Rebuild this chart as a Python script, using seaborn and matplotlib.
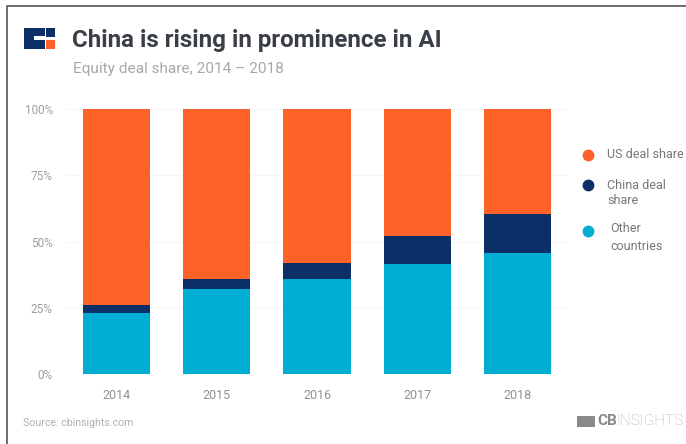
import matplotlib
matplotlib.use("Agg")
import matplotlib.pyplot as plt
from matplotlib.patches import Rectangle
import seaborn as sns
import pandas as pd

years = ["2014", "2015", "2016", "2017", "2018"]
other_share = [23, 32, 36, 41.5, 45.5]
china_share = [3, 4, 6, 10.5, 15]
us_share = [74, 64, 58, 48, 39.5]
y_ticks = [0, 25, 50, 75, 100]
y_labels = ["0%", "25%", "50%", "75%", "100%"]

ORANGE = "#FF6229"
NAVY = "#0B2F66"
CYAN = "#00AED3"
W, H = 686, 444

sns.set_theme(style="white")
plt.rcParams["font.family"] = ["Roboto", "DejaVu Sans"]

fig = plt.figure(figsize=(W / 100, H / 100), dpi=100, facecolor="white")
ax = fig.add_axes([66 / W, 1 - 374 / H, 502 / W, 265 / H])

table = pd.DataFrame({"year": years, "other": other_share, "china": china_share, "us": us_share})
base = table["other"] + table["china"]
bar_style = dict(saturation=1, width=0.67, linewidth=0, ax=ax)
sns.barplot(data=table, x="year", y="other", color=CYAN, **bar_style)
sns.barplot(data=table, x="year", y="china", bottom=table["other"], color=NAVY, **bar_style)
sns.barplot(data=table, x="year", y="us", bottom=base, color=ORANGE, **bar_style)

ax.set_xlim(-0.5, 4.5)
ax.set_ylim(0, 100)
ax.set_xlabel("")
ax.set_ylabel("")
ax.set_yticks(y_ticks, y_labels)
ax.tick_params(axis="x", length=0, pad=11, labelsize=9, labelcolor="#909090")
ax.tick_params(axis="y", length=0, pad=9.5, labelsize=8.5, labelcolor="#a0a0a0")
ax.grid(axis="y", color="#f6f6f6", lw=0.8)
ax.set_axisbelow(True)
sns.despine(ax=ax, left=True, bottom=True)


def px(x, y):
    return x / W, 1 - y / H


def block(x0, y0, x1, y1, colour):
    fig.add_artist(Rectangle(px(x0, y1), (x1 - x0) / W, (y1 - y0) / H,
                             transform=fig.transFigure, fc=colour, ec="none"))


# Outer frame
fig.add_artist(plt.Line2D([7 / W, 7 / W, 1], [0, 1 - 6 / H, 1 - 6 / H], color="#555555", lw=1.2))

# Brand mark
block(24, 28, 45, 49, NAVY)
block(34, 36, 45, 40, "white")
block(46, 28, 55, 37, NAVY)
block(46, 40, 55, 49, ORANGE)

fig.text(*px(72, 40), "China is rising in prominence in AI", fontsize=17.4, fontweight="bold",
         color="#3a3f47", va="center")
fig.text(*px(73, 69), "Equity deal share, 2014 \u2013 2018", fontsize=11.1, color="#a8a8a8", va="center")

# Legend
for cy, colour in zip([155, 185, 231], [ORANGE, NAVY, CYAN]):
    fig.add_artist(plt.Line2D([588 / W], [1 - cy / H], marker="o", ms=7.5, color=colour, ls="none"))
fig.text(*px(607, 155), "US deal share", fontsize=9, color="#777777", va="center")
fig.text(*px(607, 185), "China deal", fontsize=9, color="#777777", va="center")
fig.text(*px(607, 201), "share", fontsize=9, color="#777777", va="center")
fig.text(*px(610, 229), "Other", fontsize=9, color="#777777", va="center")
fig.text(*px(610, 246), "countries", fontsize=9, color="#777777", va="center")

# Footer
fig.text(*px(23, 423), "Source: cbinsights.com", fontsize=7.7, color="#b0b0b0", va="center")
block(577, 416, 595, 427, "#8a8a8a")
fig.text(*px(597, 421), "CB", fontsize=11, fontweight="bold", color="#888888", va="center")
fig.text(*px(616, 421), "INSIGHTS", fontsize=11, fontweight="light", color="#b0b0b0", va="center")

fig.savefig("out.png", dpi=100)
